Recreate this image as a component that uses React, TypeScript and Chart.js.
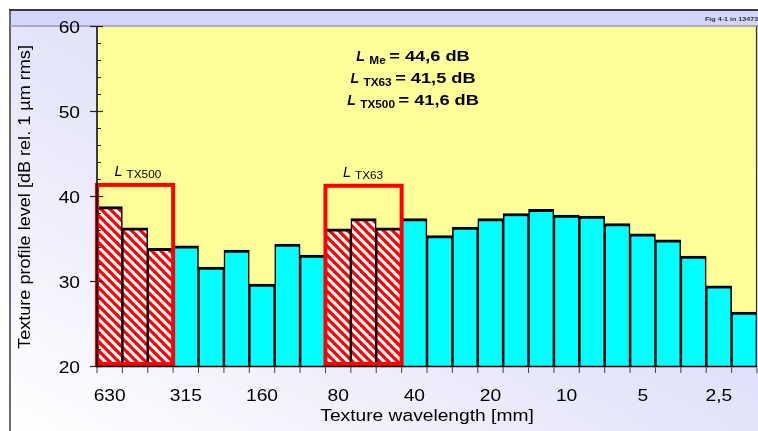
import React, { useEffect, useRef } from 'react';
import { Chart, registerables } from 'chart.js';

Chart.register(...registerables);

// one-third-octave texture wavelength bands [mm]
const bands = ['630', '500', '400', '315', '250', '200', '160', '125', '100', '80', '63', '50', '40', '31.5', '25', '20', '16', '12.5', '10', '8', '6.3', '5', '4', '3.15', '2.5', '2'];
// texture profile level [dB rel. 1 µm rms]
const levels = [38.8, 36.3, 33.9, 34.2, 31.7, 33.7, 29.7, 34.4, 33.1, 36.2, 37.4, 36.3, 37.4, 35.4, 36.4, 37.4, 38.0, 38.5, 37.8, 37.7, 36.8, 35.6, 34.9, 33.0, 29.5, 26.4];
const hatchedBands = ['630', '500', '400', '80', '63', '50'];

const tickBands = ['630', '315', '160', '80', '40', '20', '10', '5', '2.5'];
const tickLabels = ['630', '315', '160', '80', '40', '20', '10', '5', '2,5'];

const yMajorTicks = [20, 30, 40, 50, 60];
const yMinorTicks = [22, 24, 26, 28, 32, 34, 36, 38, 42, 44, 46, 48, 52, 54, 56, 58];

const boxSubs = ['TX500', 'TX63'];
const boxFrom = ['630', '80'];
const boxTo = ['400', '50'];
const boxLevels = [41.6, 41.5];

const summarySubs = ['Me', 'TX63', 'TX500'];
const summaryValues = ['44,6', '41,5', '41,6'];

const xTitle = 'Texture wavelength [mm]';
const yTitle = 'Texture profile level [dB rel. 1 µm rms]';
const figNote = 'Fig 4-1 in 13473';

const FONT = '"Liberation Sans", Arial, sans-serif';
const CYAN = '#00ffff';

function txt(ctx: CanvasRenderingContext2D, s: string, x: number, y: number, font: string, sx: number, align: 'left' | 'center' | 'right' = 'left', color = '#000') {
  ctx.save();
  ctx.font = font;
  ctx.fillStyle = color;
  ctx.textBaseline = 'alphabetic';
  ctx.textAlign = 'left';
  const w = ctx.measureText(s).width * sx;
  const x0 = align === 'center' ? x - w / 2 : align === 'right' ? x - w : x;
  ctx.translate(x0, y);
  ctx.scale(sx, 1);
  ctx.fillText(s, 0, 0);
  ctx.restore();
  return w;
}

function measure(ctx: CanvasRenderingContext2D, s: string, font: string, sx: number) {
  ctx.save();
  ctx.font = font;
  const w = ctx.measureText(s).width * sx;
  ctx.restore();
  return w;
}

function makePattern(): CanvasPattern | string {
  const T = 9;
  const pc = document.createElement('canvas');
  pc.width = T;
  pc.height = T;
  const p = pc.getContext('2d');
  if (!p) return '#ff8080';
  p.fillStyle = '#ffffff';
  p.fillRect(0, 0, T, T);
  p.strokeStyle = '#ff0000';
  p.lineWidth = 3.3;
  for (let k = -1; k <= 1; k++) {
    p.beginPath();
    p.moveTo(-T / 2, -T / 2 + T * k);
    p.lineTo(T * 1.5, T * 1.5 + T * k);
    p.stroke();
  }
  const pat = p.createPattern(pc, 'repeat');
  return pat || '#ff8080';
}

const decor = {
  id: 'decor',
  beforeDraw(chart: any) {
    const ctx: CanvasRenderingContext2D = chart.ctx;
    const { left, top, right, bottom } = chart.chartArea;
    const W = chart.width, H = chart.height;
    ctx.save();
    ctx.fillStyle = '#ffffff';
    ctx.fillRect(0, 0, W, H);
    const g = ctx.createLinearGradient(10, H, 10 + 421, H - 748);
    g.addColorStop(0, '#ffffff');
    g.addColorStop(0.43, '#e3e3fa');
    g.addColorStop(0.86, '#d4d4fa');
    ctx.fillStyle = g;
    ctx.fillRect(10, 10, W - 10, H - 10);
    // top band
    ctx.fillStyle = '#d3d5fc';
    ctx.fillRect(10, 11, W - 10, top - 11);
    // frame lines
    ctx.strokeStyle = '#3a3a3a';
    ctx.lineWidth = 2;
    ctx.beginPath();
    ctx.moveTo(9, 10);
    ctx.lineTo(W, 10);
    ctx.stroke();
    ctx.lineWidth = 1.5;
    ctx.beginPath();
    ctx.moveTo(10, 9);
    ctx.lineTo(10, H);
    ctx.stroke();
    // plot background
    ctx.fillStyle = '#ffff99';
    ctx.fillRect(left, top, right - left, bottom - top);
    ctx.strokeStyle = '#9c9cac';
    ctx.lineWidth = 1.5;
    ctx.beginPath();
    ctx.moveTo(10, top - 0.5);
    ctx.lineTo(W, top - 0.5);
    ctx.stroke();
    ctx.restore();
  },
  afterDatasetsDraw(chart: any) {
    const ctx: CanvasRenderingContext2D = chart.ctx;
    const { left, top, right, bottom } = chart.chartArea;
    const xs = chart.scales.x;
    const ys = chart.scales.y;
    const catW = xs.getPixelForValue(1) - xs.getPixelForValue(0);
    ctx.save();

    // red boxes
    ctx.strokeStyle = '#ff0000';
    ctx.lineWidth = 4;
    ctx.lineJoin = 'miter';
    boxSubs.forEach((sub, k) => {
      const x0 = xs.getPixelForValue(bands.indexOf(boxFrom[k])) - catW / 2;
      const x1 = xs.getPixelForValue(bands.indexOf(boxTo[k])) + catW / 2;
      const yT = ys.getPixelForValue(boxLevels[k]) + 2;
      const yB = bottom - 2.5;
      ctx.strokeRect(x0, yT, x1 - x0, yB - yT);
      const lx = x0 + 17.5;
      const lw = txt(ctx, 'L', lx, yT - 9, `italic 14.5px ${FONT}`, 1.0);
      txt(ctx, sub, lx + lw + 4, yT - 6.5, `10.5px ${FONT}`, 1.12);
    });

    // right plot border
    ctx.strokeStyle = '#333';
    ctx.lineWidth = 1.2;
    ctx.beginPath();
    ctx.moveTo(right - 0.5, top);
    ctx.lineTo(right - 0.5, bottom);
    ctx.stroke();

    // y axis
    ctx.strokeStyle = '#000';
    ctx.lineWidth = 1.5;
    ctx.beginPath();
    ctx.moveTo(left, top - 0.5);
    ctx.lineTo(left, bottom + 1);
    ctx.stroke();
    ctx.strokeStyle = '#222';
    ctx.lineWidth = 1.2;
    yMajorTicks.forEach((v) => {
      const y = ys.getPixelForValue(v);
      ctx.beginPath();
      ctx.moveTo(left - 7, y);
      ctx.lineTo(left + 6, y);
      ctx.stroke();
      txt(ctx, String(v), left - 17, y + 6, `16px ${FONT}`, 1.2, 'right');
    });
    ctx.strokeStyle = '#222';
    ctx.lineWidth = 1;
    yMinorTicks.forEach((v) => {
      const y = ys.getPixelForValue(v);
      ctx.beginPath();
      ctx.moveTo(left, y);
      ctx.lineTo(left + 4, y);
      ctx.stroke();
    });

    // x axis
    ctx.strokeStyle = '#000';
    ctx.lineWidth = 1.6;
    ctx.beginPath();
    ctx.moveTo(left - 1, bottom);
    ctx.lineTo(right, bottom);
    ctx.stroke();
    ctx.strokeStyle = '#444';
    ctx.lineWidth = 1;
    for (let i = 0; i <= bands.length; i++) {
      const x = i < bands.length ? xs.getPixelForValue(i) - catW / 2 : xs.getPixelForValue(bands.length - 1) + catW / 2;
      ctx.beginPath();
      ctx.moveTo(x, bottom);
      ctx.lineTo(x, bottom + 6.5);
      ctx.stroke();
    }
    tickBands.forEach((b, k) => {
      const x = xs.getPixelForValue(bands.indexOf(b));
      txt(ctx, tickLabels[k], x, 401, `16px ${FONT}`, 1.2, 'center');
    });

    // axis titles
    txt(ctx, xTitle, (left + right) / 2, 421, `16px ${FONT}`, 1.2, 'center');
    ctx.save();
    ctx.translate(30, 197);
    ctx.rotate(-Math.PI / 2);
    txt(ctx, yTitle, 0, 0, `16px ${FONT}`, 1.13, 'center');
    ctx.restore();

    // figure note
    txt(ctx, figNote, 705, 20.5, `bold 5.5px ${FONT}`, 1.3, 'left', '#333');

    // summary lines
    const cx = 413;
    const fL = `italic bold 14px ${FONT}`;
    const fS = `bold 10px ${FONT}`;
    const fM = `bold 14px ${FONT}`;
    summarySubs.forEach((sub, k) => {
      const base = 61 + k * 22;
      const main = `= ${summaryValues[k]} dB`;
      const wL = measure(ctx, 'L', fL, 1.0);
      const wS = measure(ctx, sub, fS, 1.18);
      const wM = measure(ctx, main, fM, 1.3);
      const total = wL + 4.5 + wS + 3.5 + wM;
      let x = cx - total / 2;
      txt(ctx, 'L', x, base, fL, 1.0);
      x += wL + 4.5;
      txt(ctx, sub, x, base + 2.5, fS, 1.18);
      x += wS + 3.5;
      txt(ctx, main, x, base, fM, 1.3);
    });

    ctx.restore();
  },
};

export default function App() {
  const ref = useRef<HTMLCanvasElement>(null);
  useEffect(() => {
    const canvas = ref.current;
    if (!canvas) return;
    const pattern = makePattern();
    const colors = bands.map((b) => (hatchedBands.includes(b) ? pattern : CYAN));
    const chart = new Chart(canvas, {
      type: 'bar',
      data: {
        labels: bands,
        datasets: [
          {
            data: levels,
            backgroundColor: colors as any,
            borderColor: '#000000',
            borderWidth: { top: 3, left: 1.6, right: 1.6, bottom: 0 } as any,
            borderSkipped: false,
            categoryPercentage: 1,
            barPercentage: 1,
          },
        ],
      },
      options: {
        responsive: false,
        animation: false,
        devicePixelRatio: 1,
        layout: { padding: { left: 97, top: 26.5, right: 1, bottom: 64.5 } },
        plugins: { legend: { display: false }, tooltip: { enabled: false } },
        scales: {
          x: { display: false, offset: true },
          y: { display: false, min: 20, max: 60 },
        },
      },
      plugins: [decor],
    });
    return () => chart.destroy();
  }, []);
  return (
    <div style={{ position: 'fixed', left: 0, top: 0, width: 758, height: 431 }}>
      <canvas ref={ref} width={758} height={431} style={{ display: 'block', width: 758, height: 431 }} />
    </div>
  );
}
